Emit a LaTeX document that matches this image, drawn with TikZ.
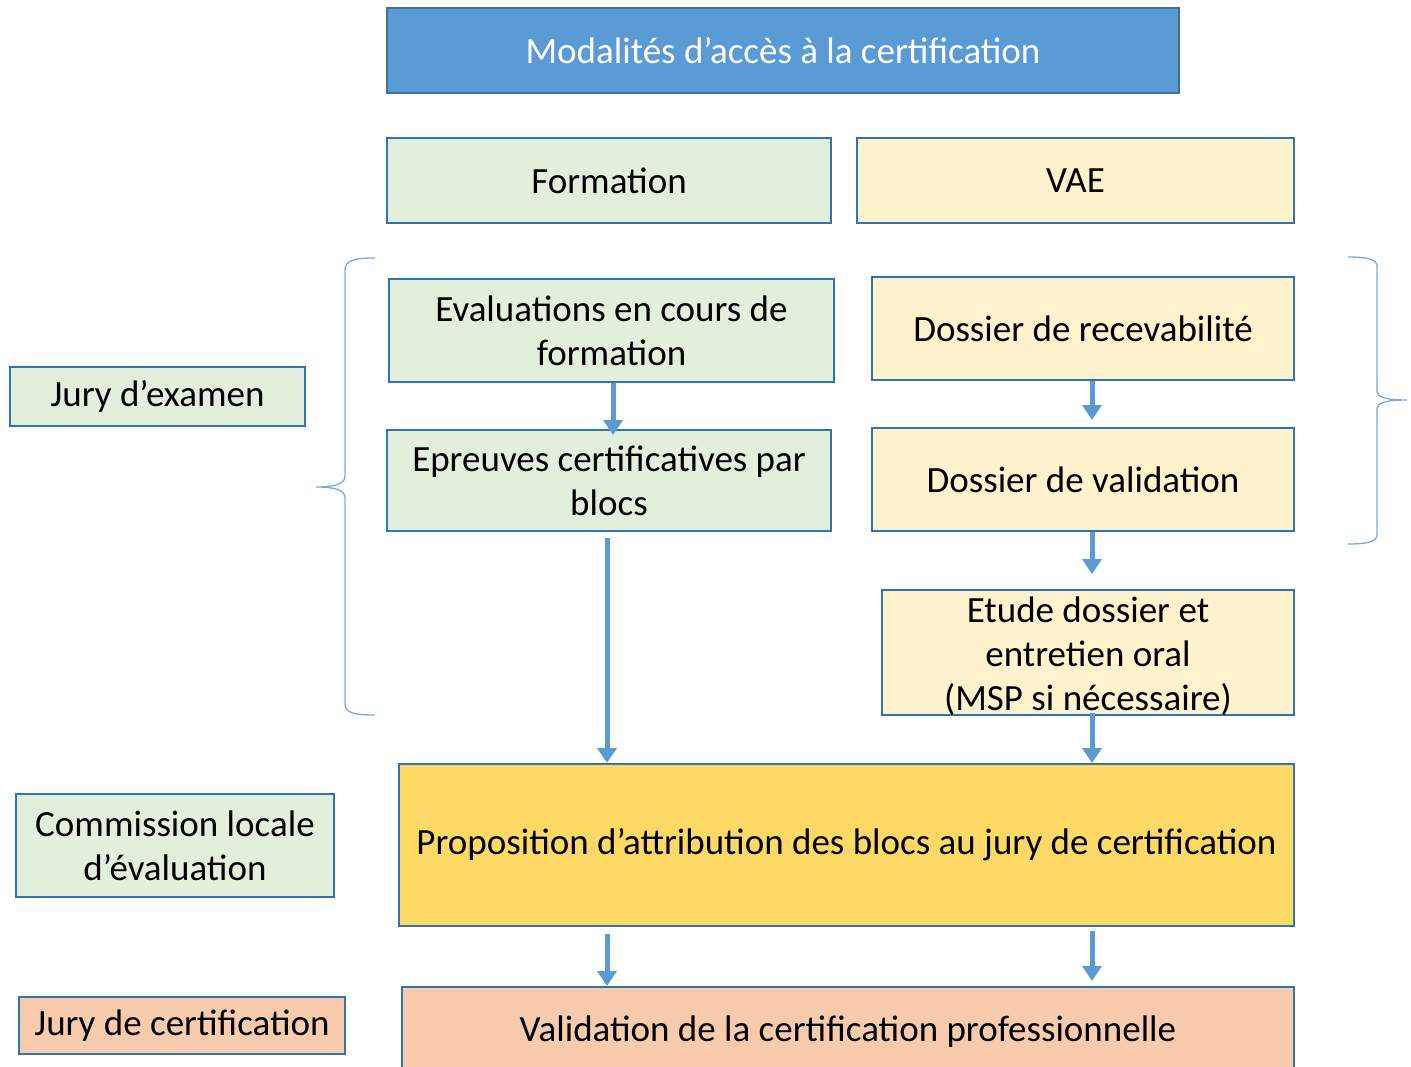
\documentclass[tikz,border=0pt]{standalone}
\usepackage{fontspec}
\setmainfont{Carlito}
\usetikzlibrary{arrows.meta,calc}
\definecolor{titlefill}{RGB}{91,155,213}
\definecolor{titledraw}{RGB}{65,113,156}
\definecolor{boxdraw}{RGB}{46,117,182}
\definecolor{greenfill}{RGB}{226,239,218}
\definecolor{yellowfill}{RGB}{255,242,204}
\definecolor{goldfill}{RGB}{255,217,102}
\definecolor{peachfill}{RGB}{248,203,173}
\definecolor{arrowblue}{RGB}{91,155,213}
\definecolor{bracecol}{RGB}{120,170,220}
\tikzset{
  x=1pt,y=-1pt,
  txt/.style={inner sep=0pt,align=center,font=\fontsize{37}{44}\selectfont,text=black},
  box/.style={txt,draw=boxdraw,line width=2pt},
  greenbox/.style={box,fill=greenfill},
  yellowbox/.style={box,fill=yellowfill},
  arr/.style={draw=arrowblue,line width=5pt,-{Triangle[width=19pt,length=15pt]}},
  bracestyle/.style={draw=bracecol,line width=1.3pt}
}
\newcommand{\rbox}[7]{% style, name, x1, y1, x2, y2, text
  \node[#1,minimum width={#5-#3},minimum height={#6-#4}] (#2) at ({(#3+#5)/2},{(#4+#6)/2}) {#7};}
\begin{document}
\begin{tikzpicture}
\useasboundingbox (0,0) rectangle (1411,1067);
% title
\rbox{box,fill=titlefill,draw=titledraw,text=white}{title}{387}{8}{1179}{93}{Modalités d’accès à la certification}
% columns
\rbox{greenbox}{form}{387}{138}{831}{223}{Formation}
\rbox{yellowbox}{vae}{857}{138}{1294}{223}{VAE}
\rbox{greenbox}{eval}{389}{279}{834}{382}{Evaluations en cours de\\formation}
\rbox{yellowbox}{rec}{872}{277}{1294}{380}{Dossier de recevabilité}
\rbox{greenbox}{epr}{387}{430}{831}{531}{Epreuves certificatives par\\blocs}
\rbox{yellowbox}{val}{872}{428}{1294}{531}{Dossier de validation}
\rbox{yellowbox}{etude}{882}{590}{1294}{715}{}
\node[txt] (etudetxt) at (1088,656) {Etude dossier et\\entretien oral\\(MSP si nécessaire)};
\rbox{box,fill=goldfill}{prop}{399}{764}{1294}{926}{Proposition d’attribution des blocs au jury de certification}
\rbox{box,fill=peachfill}{valid}{402}{987}{1294}{1076}{Validation de la certification professionnelle}
% left labels
\rbox{greenbox}{jury}{10}{367}{305}{426}{Jury d’examen}
\rbox{greenbox}{comm}{16}{794}{334}{897}{Commission locale\\d’évaluation}
\rbox{box,fill=peachfill}{juryc}{19}{997}{345}{1054}{Jury de certification}
% arrows
\draw[arr] ([xshift=1.5pt]eval.south) -- ([xshift=1.5pt,yshift=-6pt]eval.south |- epr.north);
\draw[arr] ([xshift=9pt]rec.south) -- ([xshift=9pt,yshift=7pt]rec.south |- val.north);
\draw[arr] ([xshift=9pt]val.south) -- ++(0,42);
\draw[arr] ([xshift=-2pt,yshift=-6pt]epr.south) -- ([xshift=-2pt]epr.south |- prop.north);
\draw[arr] ([xshift=4pt,yshift=3pt]etude.south) -- ([xshift=4pt]etude.south |- prop.north);
\draw[arr] ([xshift=-2pt,yshift=-7pt]epr.south |- prop.south) -- ([xshift=-2pt]epr.south |- valid.north);
\draw[arr] ([xshift=9pt,yshift=-4pt]val.south |- prop.south) -- ([xshift=9pt,yshift=5pt]val.south |- valid.north);
% braces
\draw[bracestyle] (375,258) .. controls (355,258) and (345,260) .. (345,270)
  -- (345,476) .. controls (345,484) and (335,487) .. (316,487)
  .. controls (335,487) and (345,490) .. (345,498)
  -- (345,704) .. controls (345,713) and (355,715) .. (375,715);
\draw[bracestyle] (1348,257) .. controls (1366,257) and (1377,259) .. (1377,266)
  -- (1377,391) .. controls (1377,397) and (1385,400) .. (1407,400)
  .. controls (1385,400) and (1377,403) .. (1377,409)
  -- (1377,535) .. controls (1377,542) and (1366,544) .. (1348,544);
\end{tikzpicture}
\end{document}
